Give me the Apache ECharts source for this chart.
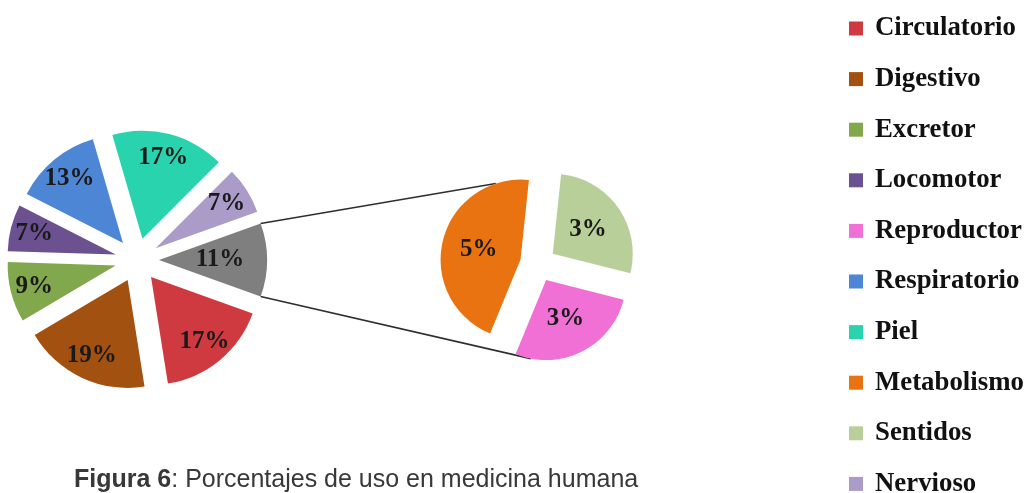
<!DOCTYPE html>
<html>
<head>
<meta charset="utf-8">
<script src="https://cdn.jsdelivr.net/npm/echarts@6/dist/echarts.min.js"></script>
<style>
  html, body { margin: 0; padding: 0; background: #fff; }
  #main { width: 1025px; height: 493px; }
</style>
</head>
<body>
<div id="main"></div>
<script>
// Shares of use per body system (percent)
const mainNames  = ['Circulatorio', 'Digestivo', 'Excretor', 'Locomotor', 'Respiratorio', 'Piel', 'Nervioso'];
const mainValues = [17, 19, 9, 7, 13, 17, 7];

// Systems grouped in the small slice, broken out in the secondary pie
const detailNames  = ['Sentidos', 'Reproductor', 'Metabolismo'];
const detailValues = [3, 3, 5];
const groupName = 'Otros';

const legendOrder = ['Circulatorio', 'Digestivo', 'Excretor', 'Locomotor', 'Reproductor',
                     'Respiratorio', 'Piel', 'Metabolismo', 'Sentidos', 'Nervioso'];

const palette = {
  Circulatorio: '#cf3a40', Digestivo: '#a35111', Excretor: '#82a84e', Locomotor: '#6b5190',
  Reproductor: '#f070d5', Respiratorio: '#4e86d6', Piel: '#28d3ae', Metabolismo: '#ea7311',
  Sentidos: '#b8cf9a', Nervioso: '#aa9bc8', Otros: '#7f7f7f'
};

const groupValue = detailValues.reduce((a, b) => a + b, 0);
const mainTotal = mainValues.reduce((a, b) => a + b, 0) + groupValue;

const MAIN_CENTER = [137, 260], MAIN_R = 108, MAIN_OFFSET = 22;
const SUB_CENTER = [538, 264], SUB_R = 80, SUB_OFFSET = 18;

const mainData = [{ name: groupName, value: groupValue }]
  .concat(mainNames.map((n, i) => ({ name: n, value: mainValues[i] })))
  .map(d => Object.assign(d, { selected: true, itemStyle: { color: palette[d.name] } }));

// the grouped slice carries its label closer to the centre
const labelData = mainData.map(d => ({
  name: d.name, value: d.value, selected: true,
  itemStyle: { color: 'rgba(0,0,0,0)' },
  label: d.name === groupName ? { padding: [0, 46, 0, 0] } : undefined
}));

const subData = detailNames.map((n, i) => ({
  name: n, value: detailValues[i], selected: true, itemStyle: { color: palette[n] }
}));

// the grouped slice is centred on the horizontal axis, pointing at the secondary pie
const mainStart = groupValue / mainTotal * 180;

const labelFont = {
  fontFamily: 'Liberation Serif', fontWeight: 'bold', color: '#1a1a1a'
};

const common = {
  type: 'pie', selectedMode: 'multiple', silent: true, animation: false,
  avoidLabelOverlap: false, clockwise: true, labelLine: { show: false },
  emphasis: { disabled: true },
  select: { itemStyle: { borderWidth: 0 } }
};

// one legend row per entry, at a fixed pitch down the right edge
const LEGEND_FONT = 26.8, LEGEND_PITCH = 50.6, LEGEND_TOP = 15;
function legendRow(name, i) {
  return {
    orient: 'vertical', left: 849, top: LEGEND_TOP + i * LEGEND_PITCH, padding: 0,
    data: [name], icon: 'rect', itemWidth: 14, itemHeight: 14, selectedMode: false,
    textStyle: {
      fontFamily: 'Liberation Serif', fontWeight: 'bold', fontSize: LEGEND_FONT, color: '#111',
      padding: [0, 0, 0, 7]
    }
  };
}

const option = {
  animation: false,
  title: {
    left: 74, top: 465, padding: 0,
    text: '{b|Figura 6}{n|: Porcentajes de uso en medicina humana}',
    textStyle: {
      rich: {
        b: { fontFamily: 'Liberation Sans', fontSize: 25, fontWeight: 'bold', color: '#383838', lineHeight: 30 },
        n: { fontFamily: 'Liberation Sans', fontSize: 25, fontWeight: 'normal', color: '#383838', lineHeight: 30 }
      }
    }
  },
  legend: legendOrder.map(legendRow),
  series: [
    Object.assign({}, common, {
      name: 'main', center: MAIN_CENTER, radius: [0, MAIN_R], startAngle: mainStart,
      selectedOffset: MAIN_OFFSET, itemStyle: { borderWidth: 0 },
      label: { show: false }, data: mainData
    }),
    Object.assign({}, common, {
      name: 'detail', center: SUB_CENTER, radius: [0, SUB_R], startAngle: 84,
      selectedOffset: SUB_OFFSET, itemStyle: { borderWidth: 0 },
      label: Object.assign({ show: true, position: 'inside', fontSize: 25, formatter: '{c}%' }, labelFont),
      data: subData
    }),
    // transparent ring carrying the percentage labels of the main pie
    Object.assign({}, common, {
      name: 'mainLabels', center: MAIN_CENTER, radius: [MAIN_R * 0.5, MAIN_R], startAngle: mainStart,
      selectedOffset: MAIN_OFFSET, itemStyle: { borderWidth: 0 },
      label: Object.assign({ show: true, position: 'inside', fontSize: 25, formatter: '{c}%' }, labelFont),
      data: labelData
    })
  ]
};

const chart = echarts.init(document.getElementById('main'), null, { renderer: 'canvas' });
chart.setOption(option);

// Geometry of an exploded slice, taken from the pie layout
function sliceGeom(seriesIndex, name) {
  const model = chart.getModel().getSeriesByIndex(seriesIndex);
  const data = model.getData();
  const l = data.getItemLayout(data.indexOfName(name));
  const off = model.get('selectedOffset');
  const mid = (l.startAngle + l.endAngle) / 2;
  return { cx: l.cx + off * Math.cos(mid), cy: l.cy + off * Math.sin(mid), r: l.r,
           start: l.startAngle, end: l.endAngle };
}
function onArc(s, a) { return [s.cx + s.r * Math.cos(a), s.cy + s.r * Math.sin(a)]; }

const groupSlice = sliceGeom(0, groupName);
const upperSlice = sliceGeom(1, 'Metabolismo');
const lowerSlice = sliceGeom(1, 'Reproductor');
const DEG = Math.PI / 180;
const p1 = onArc(groupSlice, groupSlice.start), p2 = onArc(upperSlice, -108 * DEG);
const p3 = onArc(groupSlice, groupSlice.end),   p4 = onArc(lowerSlice, 101 * DEG);

chart.setOption({
  graphic: [
    { type: 'line', z: 0, silent: true, shape: { x1: p1[0], y1: p1[1], x2: p2[0], y2: p2[1] },
      style: { stroke: '#2e2e2e', lineWidth: 1.6 } },
    { type: 'line', z: 0, silent: true, shape: { x1: p3[0], y1: p3[1], x2: p4[0], y2: p4[1] },
      style: { stroke: '#2e2e2e', lineWidth: 1.6 } }
  ]
});
</script>
</body>
</html>
